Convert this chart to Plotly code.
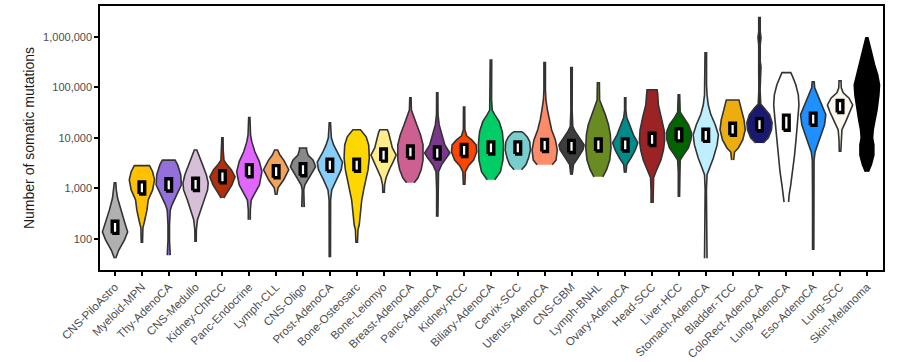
import plotly.graph_objects as go

categories = [
    "CNS-PiloAstro", "Myeloid-MPN", "Thy-AdenoCA", "CNS-Medullo", "Kidney-ChRCC",
    "Panc-Endocrine", "Lymph-CLL", "CNS-Oligo", "Prost-AdenoCA", "Bone-Osteosarc",
    "Bone-Leiomyo", "Breast-AdenoCA", "Panc-AdenoCA", "Kidney-RCC", "Biliary-AdenoCA",
    "Cervix-SCC", "Uterus-AdenoCA", "CNS-GBM", "Lymph-BNHL", "Ovary-AdenoCA",
    "Head-SCC", "Liver-HCC", "Stomach-AdenoCA", "Bladder-TCC", "ColoRect-AdenoCA",
    "Lung-AdenoCA", "Eso-AdenoCA", "Lung-SCC", "Skin-Melanoma",
]

# Violin outlines: log10(number of mutations) levels (bottom -> top) and relative density widths
profile_log10 = [
    [1.62, 1.78, 1.98, 2.14, 2.34, 2.57, 2.81, 2.97, 3.11],
    [1.92, 2.22, 2.34, 2.57, 2.77, 2.97, 3.17, 3.33, 3.43, 3.45],
    [1.68, 1.78, 1.98, 2.28, 2.57, 2.67, 2.87, 3.07, 3.27, 3.47, 3.56],
    [1.94, 2.18, 2.38, 2.57, 2.77, 2.97, 3.11, 3.27, 3.47, 3.66, 3.76],
    [2.81, 2.93, 3.07, 3.23, 3.37, 3.47, 3.56, 3.76, 4.00],
    [2.38, 2.57, 2.77, 2.87, 3.07, 3.33, 3.53, 3.72, 3.92, 4.06, 4.26, 4.40],
    [2.87, 3.01, 3.17, 3.37, 3.56, 3.66, 3.76],
    [2.63, 2.77, 2.97, 3.07, 3.21, 3.43, 3.56, 3.66, 3.76, 3.80],
    [1.64, 2.18, 2.77, 2.97, 3.17, 3.37, 3.52, 3.72, 3.86, 4.00, 4.16, 4.30],
    [1.92, 2.18, 2.28, 2.48, 2.77, 2.97, 3.17, 3.37, 3.60, 3.86, 4.02, 4.12, 4.16],
    [2.91, 3.07, 3.21, 3.37, 3.52, 3.66, 3.80, 3.96, 4.10, 4.16],
    [3.11, 3.21, 3.37, 3.56, 3.86, 4.06, 4.26, 4.42, 4.55, 4.79],
    [2.44, 2.97, 3.33, 3.47, 3.60, 3.70, 3.86, 4.06, 4.26, 4.46, 4.89],
    [3.07, 3.33, 3.45, 3.56, 3.72, 3.86, 3.96, 4.04, 4.16, 4.61],
    [3.17, 3.33, 3.56, 3.86, 4.12, 4.32, 4.46, 4.55, 4.75, 5.54],
    [3.37, 3.47, 3.60, 3.76, 3.92, 4.02, 4.10, 4.12],
    [3.47, 3.56, 3.76, 3.96, 4.16, 4.36, 4.55, 4.75, 4.95, 5.49],
    [3.27, 3.47, 3.60, 3.76, 3.86, 4.00, 4.12, 4.22, 4.55, 5.39],
    [3.23, 3.37, 3.56, 3.80, 4.06, 4.26, 4.46, 4.65, 4.75, 5.09],
    [3.31, 3.47, 3.60, 3.76, 3.90, 4.06, 4.26, 4.40, 4.55, 4.79],
    [2.71, 2.97, 3.21, 3.33, 3.56, 3.76, 3.96, 4.16, 4.40, 4.65, 4.85, 4.95],
    [2.83, 3.33, 3.56, 3.66, 3.80, 3.96, 4.10, 4.26, 4.40, 4.51, 4.85],
    [1.62, 1.98, 2.18, 2.97, 3.27, 3.41, 3.60, 3.86, 4.06, 4.26, 4.46, 4.65, 4.85, 5.05, 5.68],
    [3.56, 3.72, 3.80, 3.96, 4.16, 4.36, 4.55, 4.67, 4.75],
    [3.90, 4.00, 4.16, 4.30, 4.46, 4.59, 4.67, 4.95, 5.31, 5.41, 5.51, 5.84, 5.98, 6.10, 6.38],
    [2.73, 2.87, 3.07, 3.33, 3.66, 4.00, 4.36, 4.65, 4.85, 5.05, 5.21, 5.29],
    [1.78, 2.77, 3.56, 3.72, 3.86, 4.06, 4.26, 4.46, 4.65, 4.85, 4.99, 5.11],
    [3.72, 3.96, 4.16, 4.32, 4.51, 4.65, 4.79, 4.89, 4.99, 5.13],
    [3.33, 3.47, 3.66, 3.86, 4.00, 4.16, 4.36, 4.55, 4.85, 5.05, 5.25, 5.45, 5.66, 5.86, 5.98],
]
profile_density = [
    [0.05, 0.30, 0.75, 1.00, 0.75, 0.45, 0.20, 0.10, 0.06],
    [0.05, 0.08, 0.20, 0.40, 0.50, 0.85, 1.00, 0.85, 0.65, 0.60],
    [0.12, 0.10, 0.06, 0.06, 0.12, 0.25, 0.60, 1.00, 0.95, 0.70, 0.50],
    [0.05, 0.06, 0.15, 0.40, 0.65, 0.95, 1.00, 0.85, 0.55, 0.25, 0.10],
    [0.10, 0.40, 0.75, 1.00, 0.70, 0.35, 0.12, 0.06, 0.05],
    [0.08, 0.08, 0.15, 0.35, 0.80, 1.00, 0.80, 0.45, 0.20, 0.10, 0.08, 0.05],
    [0.06, 0.15, 0.60, 1.00, 0.60, 0.30, 0.12],
    [0.10, 0.06, 0.06, 0.15, 0.50, 1.00, 0.80, 0.40, 0.28, 0.28],
    [0.05, 0.05, 0.06, 0.15, 0.50, 0.90, 1.00, 0.55, 0.30, 0.12, 0.06, 0.05],
    [0.06, 0.10, 0.20, 0.28, 0.40, 0.55, 0.75, 0.90, 1.00, 0.95, 0.75, 0.45, 0.30],
    [0.06, 0.08, 0.20, 0.45, 0.75, 1.00, 0.70, 0.55, 0.40, 0.30],
    [0.30, 0.60, 0.85, 1.00, 1.00, 0.80, 0.50, 0.25, 0.08, 0.05],
    [0.05, 0.05, 0.10, 0.35, 0.75, 1.00, 0.60, 0.35, 0.15, 0.06, 0.05],
    [0.06, 0.10, 0.35, 0.75, 1.00, 0.95, 0.60, 0.20, 0.06, 0.05],
    [0.30, 0.75, 0.95, 1.00, 0.90, 0.65, 0.30, 0.10, 0.05, 0.06],
    [0.30, 0.65, 0.85, 1.00, 0.95, 0.75, 0.45, 0.30],
    [0.60, 0.90, 1.00, 0.85, 0.55, 0.35, 0.22, 0.10, 0.06, 0.06],
    [0.06, 0.15, 0.50, 0.90, 1.00, 0.60, 0.30, 0.10, 0.05, 0.06],
    [0.35, 0.65, 0.90, 1.00, 0.95, 0.80, 0.55, 0.25, 0.10, 0.08],
    [0.06, 0.12, 0.45, 0.80, 1.00, 0.65, 0.35, 0.12, 0.05, 0.05],
    [0.08, 0.08, 0.12, 0.30, 0.70, 0.90, 1.00, 0.95, 0.75, 0.50, 0.45, 0.40],
    [0.05, 0.05, 0.10, 0.35, 0.75, 0.95, 1.00, 0.75, 0.35, 0.10, 0.06],
    [0.10, 0.08, 0.05, 0.05, 0.10, 0.30, 0.60, 0.90, 1.00, 0.75, 0.40, 0.20, 0.10, 0.06, 0.06],
    [0.08, 0.15, 0.45, 0.80, 1.00, 0.90, 0.70, 0.60, 0.50],
    [0.30, 0.70, 0.95, 1.00, 0.80, 0.40, 0.10, 0.05, 0.06, 0.12, 0.06, 0.06, 0.12, 0.06, 0.06],
    [0.18, 0.22, 0.35, 0.50, 0.65, 0.78, 0.90, 1.00, 0.95, 0.75, 0.50, 0.35],
    [0.05, 0.05, 0.07, 0.15, 0.35, 0.65, 0.90, 1.00, 0.70, 0.35, 0.12, 0.08],
    [0.06, 0.08, 0.15, 0.45, 0.80, 1.00, 0.70, 0.25, 0.10, 0.08],
    [0.12, 0.35, 0.55, 0.55, 0.45, 0.50, 0.65, 0.80, 0.95, 1.00, 0.85, 0.60, 0.40, 0.20, 0.08],
]

# Box (interquartile range) in log10(mutations)
q1_log10 = [2.11, 2.89, 2.95, 2.96, 3.11, 3.23, 3.21, 3.25, 3.34, 3.34, 3.54, 3.60, 3.58, 3.63, 3.68,
            3.68, 3.73, 3.71, 3.74, 3.74, 3.85, 3.94, 3.93, 4.05, 4.14, 4.15, 4.25, 4.50, 4.75]
q3_log10 = [2.35, 3.13, 3.19, 3.20, 3.35, 3.47, 3.45, 3.49, 3.58, 3.58, 3.78, 3.84, 3.82, 3.87, 3.92,
            3.92, 3.97, 3.95, 3.98, 3.98, 4.09, 4.18, 4.17, 4.29, 4.38, 4.45, 4.49, 4.74, 5.15]

y_tick_values = [100, 1000, 10000, 100000, 1000000]
y_tick_labels = ["100", "1,000", "10,000", "100,000", "1,000,000"]

fill_colors = [
    "#B0B0B0", "#FFC100", "#9370DB", "#D8BFD8", "#B32F0B", "#E066FF", "#F4A35D", "#888888",
    "#87CEFA", "#FFD700", "#FFEC8B", "#CD6090", "#7A378B", "#FF4500", "#00CD66", "#79CDCD",
    "#FF8C69", "#3D3D3D", "#698B22", "#008B8B", "#9B2326", "#006400", "#BFEFFF", "#EEAD0E",
    "#191970", "#FFFFFF", "#1E90FF", "#FDF8EE", "#000000",
]

HALF = 0.47      # max half-width of a violin (category units)
BOX_HALF = 0.105  # half-width of the box (category units)

fig = go.Figure()

for i, cat in enumerate(categories):
    lv = profile_log10[i]
    dn = profile_density[i]
    xs = [i + d * HALF for d in dn] + [i - d * HALF for d in reversed(dn)]
    ys = [10 ** v for v in lv] + [10 ** v for v in reversed(lv)]
    outline = "#000000" if fill_colors[i] == "#000000" else "#333333"
    fig.add_trace(go.Scatter(
        x=xs, y=ys, mode="lines", fill="toself", fillcolor=fill_colors[i],
        line=dict(color=outline, width=1.6), hoverinfo="skip", showlegend=False,
    ))

# boxes: black frame with a light interior slit
for i in range(len(categories)):
    lo, hi = 10 ** q1_log10[i], 10 ** q3_log10[i]
    inner = "#000000" if fill_colors[i] == "#000000" else "#FFFFFF"
    fig.add_trace(go.Scatter(
        x=[i - BOX_HALF, i + BOX_HALF, i + BOX_HALF, i - BOX_HALF, i - BOX_HALF],
        y=[lo, lo, hi, hi, lo], mode="lines", fill="toself", fillcolor=inner,
        line=dict(color="#000000", width=3.4), hoverinfo="skip", showlegend=False,
    ))

axis_common = dict(
    showline=True, linecolor="#000000", linewidth=1.5, mirror=True,
    ticks="outside", ticklen=4, tickcolor="#000000", tickwidth=1.5,
    showgrid=False, zeroline=False, automargin=False,
)

fig.update_layout(
    width=916, height=362,
    margin=dict(l=100, r=33, t=6, b=92),
    paper_bgcolor="white", plot_bgcolor="white",
    font=dict(family="Liberation Sans, Arial, sans-serif", color="#4D4D4D", size=11),
    xaxis=dict(
        range=[-0.56, 28.6], tickmode="array", tickvals=list(range(len(categories))),
        ticktext=categories, tickangle=-45, tickfont=dict(size=11.5, color="#4D4D4D"),
        **axis_common,
    ),
    yaxis=dict(
        type="log", range=[1.386, 6.608], tickmode="array",
        tickvals=y_tick_values, ticktext=y_tick_labels, tickfont=dict(size=11, color="#4D4D4D"),
        title=dict(text="Number of somatic mutations", font=dict(size=14, color="#1A1A1A"), standoff=5),
        **axis_common,
    ),
)

fig.write_html(
    "out.html",
    config={"displayModeBar": False},
    post_script="document.body.style.margin='0px';document.body.style.overflow='hidden';",
)
